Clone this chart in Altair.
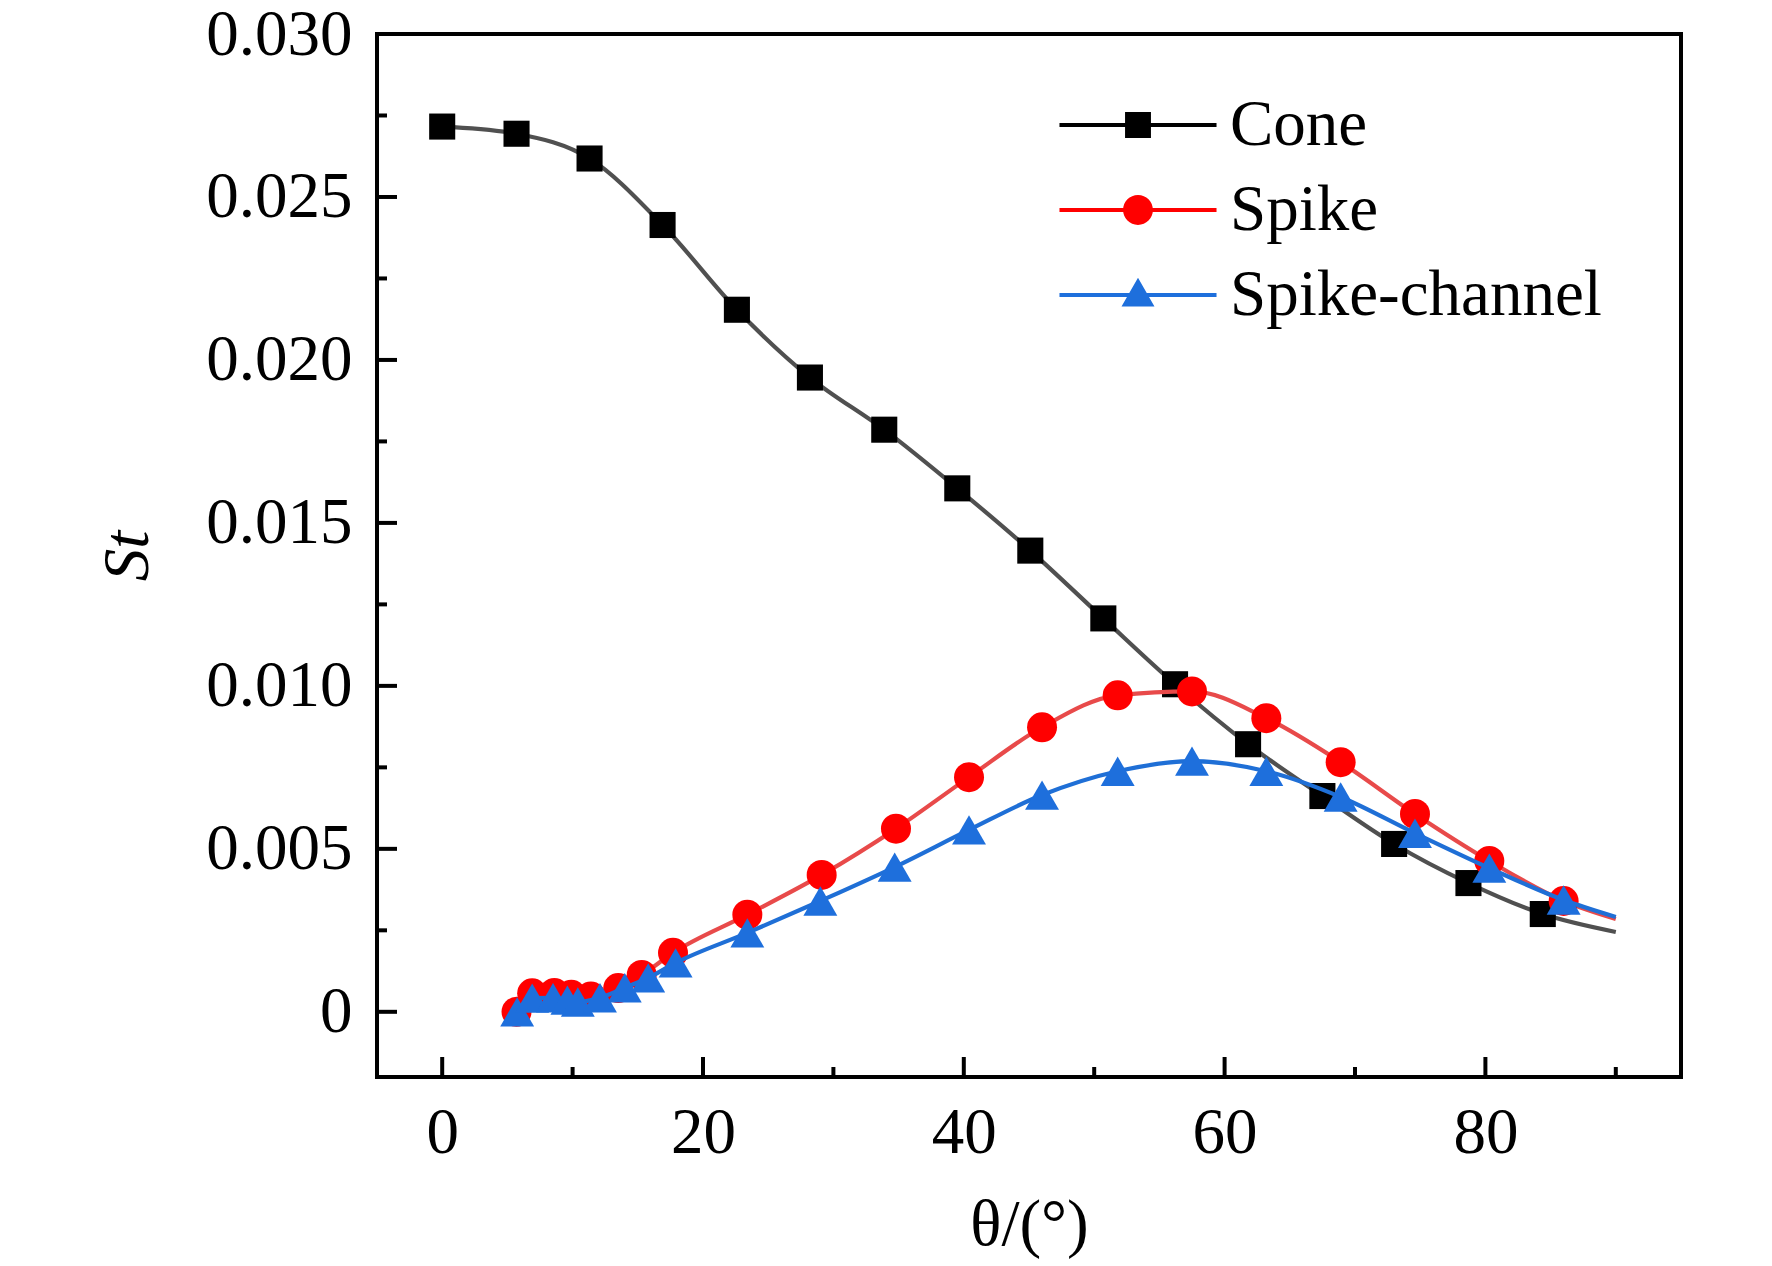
import altair as alt
import pandas as pd

W, H = 1304, 1043
FONT = "Liberation Serif"

series = ["Cone", "Spike", "Spike-channel"]

cone_theta = [0.0, 5.7, 11.3, 16.9, 22.6, 28.2, 33.9, 39.5, 45.1, 50.7, 56.2, 61.8, 67.5, 73.0, 78.7, 84.4]
cone_st = [0.02716, 0.02694, 0.02618, 0.02414, 0.02154, 0.01946, 0.01786, 0.01606,
           0.01415, 0.01207, 0.01005, 0.00821, 0.00662, 0.00515, 0.00395, 0.00300]
cone_end = (90.0, 0.00245)

spike_theta = [5.7, 6.9, 8.6, 9.9, 11.4, 13.5, 15.3, 17.7, 23.4, 29.1, 34.8, 40.4,
               46.0, 51.8, 57.5, 63.2, 68.9, 74.6, 80.3, 86.0]
spike_st = [0.00000, 0.00057, 0.00058, 0.00052, 0.00047, 0.00073, 0.00113, 0.00181,
            0.00298, 0.00420, 0.00562, 0.00720, 0.00873, 0.00971, 0.00983, 0.00901,
            0.00766, 0.00607, 0.00463, 0.00340]
spike_end = (90.0, 0.00285)

chan_theta = [5.75, 6.9, 8.5, 9.6, 10.4, 12.1, 14.0, 15.8, 17.9, 23.4, 29.0, 34.7,
              40.4, 46.0, 51.8, 57.5, 63.2, 68.9, 74.6, 80.3, 86.0]
chan_st = [0.00000, 0.00042, 0.00043, 0.00036, 0.00030, 0.00043, 0.00074, 0.00104,
           0.00150, 0.00242, 0.00340, 0.00444, 0.00558, 0.00665, 0.00738, 0.00769,
           0.00738, 0.00659, 0.00548, 0.00441, 0.00343]
chan_end = (90.0, 0.00291)

x_major = [0, 20, 40, 60, 80]
x_minor = [10, 30, 50, 70, 90]
y_major = [0, 0.005, 0.010, 0.015, 0.020, 0.025, 0.030]
y_minor = [0.0025, 0.0075, 0.0125, 0.0175, 0.0225, 0.0275]

line_colors = ["#505050", "#e84a4a", "#1f6fd6"]
marker_colors = ["#000000", "#ff0000", "#1e6fdc"]
marker_shapes = ["square", "circle", "triangle-up"]
marker_sizes = [680, 900, 1150]

legend_paths = [
    "M-1.51,-0.04L-0.249,-0.04L-0.249,-0.249L0.249,-0.249L0.249,-0.04L1.51,-0.04L1.51,0.04L0.249,0.04L0.249,0.249L-0.249,0.249L-0.249,0.04L-1.51,0.04Z",
    "M-1.51,-0.04L1.51,-0.04L1.51,0.04L-1.51,0.04Z M0.287,0A0.287,0.287 0 1,1 -0.287,0A0.287,0.287 0 1,1 0.287,0Z",
    "M-1.51,-0.04L1.51,-0.04L1.51,0.04L-1.51,0.04Z M0,-0.332L0.317,0.219L-0.317,0.219Z",
]

xscale = alt.Scale(domain=[-5, 95], nice=False, zero=False)
yscale = alt.Scale(domain=[-0.002, 0.030], nice=False, zero=False)

x_axis = alt.Axis(values=x_major, format="d", ticks=False, tickSize=0, domain=False, grid=False,
                  labelFont=FONT, labelFontSize=65, labelColor="black", labelPadding=24,
                  labelFlush=False, labelOverlap=False,
                  titleFont=FONT, titleFontSize=65, titleFontWeight="normal", titleColor="black",
                  titleX=W / 2, titleY=147, titleBaseline="middle", titleAlign="center")
y_axis = alt.Axis(values=y_major, ticks=False, tickSize=0, domain=False, grid=False,
                  labelExpr="datum.value == 0 ? '0' : format(datum.value, '.3f')",
                  labelFont=FONT, labelFontSize=65, labelColor="black", labelPadding=25,
                  labelOverlap=False,
                  titleFont=FONT, titleFontSize=65, titleFontWeight="normal", titleFontStyle="italic",
                  titleColor="black", titleAngle=270, titleX=-250, titleY=H / 2,
                  titleBaseline="middle", titleAlign="center")


def X(field):
    return alt.X(f"{field}:Q", scale=xscale, axis=x_axis, title="θ/(°)")


def Y(field):
    return alt.Y(f"{field}:Q", scale=yscale, axis=y_axis, title="St")


def line_layer(xs, ys, end, color):
    df = pd.DataFrame({"theta": xs + [end[0]], "st": ys + [end[1]]})
    return alt.Chart(df).mark_line(color=color, strokeWidth=4.2, interpolate="monotone").encode(
        x=X("theta"), y=Y("st"))


def point_layer(xs, ys, color, shape, size):
    df = pd.DataFrame({"theta": xs, "st": ys})
    return alt.Chart(df).mark_point(shape=shape, filled=True, color=color, size=size,
                                    opacity=1, strokeWidth=0).encode(x=X("theta"), y=Y("st"))


all_data = [(cone_theta, cone_st, cone_end), (spike_theta, spike_st, spike_end),
            (chan_theta, chan_st, chan_end)]

layers = []
for i, (xs, ys, end) in enumerate(all_data):
    layers.append(line_layer(xs, ys, end, line_colors[i]))
    layers.append(point_layer(xs, ys, marker_colors[i], marker_shapes[i], marker_sizes[i]))

leg = alt.Legend(title=None, orient="none", legendX=709, legendY=39, padding=0,
                 rowPadding=0, symbolSize=10816, symbolOffset=0, symbolStrokeWidth=0,
                 symbolOpacity=1, labelOffset=40, labelFont=FONT, labelFontSize=65,
                 labelColor="black", labelLimit=0)
leg_df = pd.DataFrame({"series": series, "theta": [0, 0, 0], "st": [0, 0, 0]})
legend_layer = alt.Chart(leg_df).transform_filter("false").mark_point(
    filled=True, opacity=1).encode(
    x=X("theta"), y=Y("st"),
    color=alt.Color("series:N", scale=alt.Scale(domain=series, range=marker_colors), legend=leg),
    shape=alt.Shape("series:N", scale=alt.Scale(domain=series, range=legend_paths), legend=leg),
)
layers.append(legend_layer)

tick_layers = [
    alt.Chart(pd.DataFrame({"v": x_major})).mark_rule(color="black", strokeWidth=4).encode(
        x=X("v"), y=alt.value(H), y2=alt.value(H - 20)),
    alt.Chart(pd.DataFrame({"v": x_minor})).mark_rule(color="black", strokeWidth=4).encode(
        x=X("v"), y=alt.value(H), y2=alt.value(H - 10)),
    alt.Chart(pd.DataFrame({"v": y_major})).mark_rule(color="black", strokeWidth=4).encode(
        y=Y("v"), x=alt.value(0), x2=alt.value(20)),
    alt.Chart(pd.DataFrame({"v": y_minor})).mark_rule(color="black", strokeWidth=4).encode(
        y=Y("v"), x=alt.value(0), x2=alt.value(10)),
]

chart = alt.layer(*tick_layers, *layers).properties(
    width=W, height=H,
    background="white",
    padding={"left": 369, "top": 26, "right": 60, "bottom": 190},
    autosize=alt.AutoSizeParams(type="none"),
).configure_view(stroke="black", strokeWidth=4)

chart.save("out.html", embed_options={"renderer": "svg", "actions": False})
